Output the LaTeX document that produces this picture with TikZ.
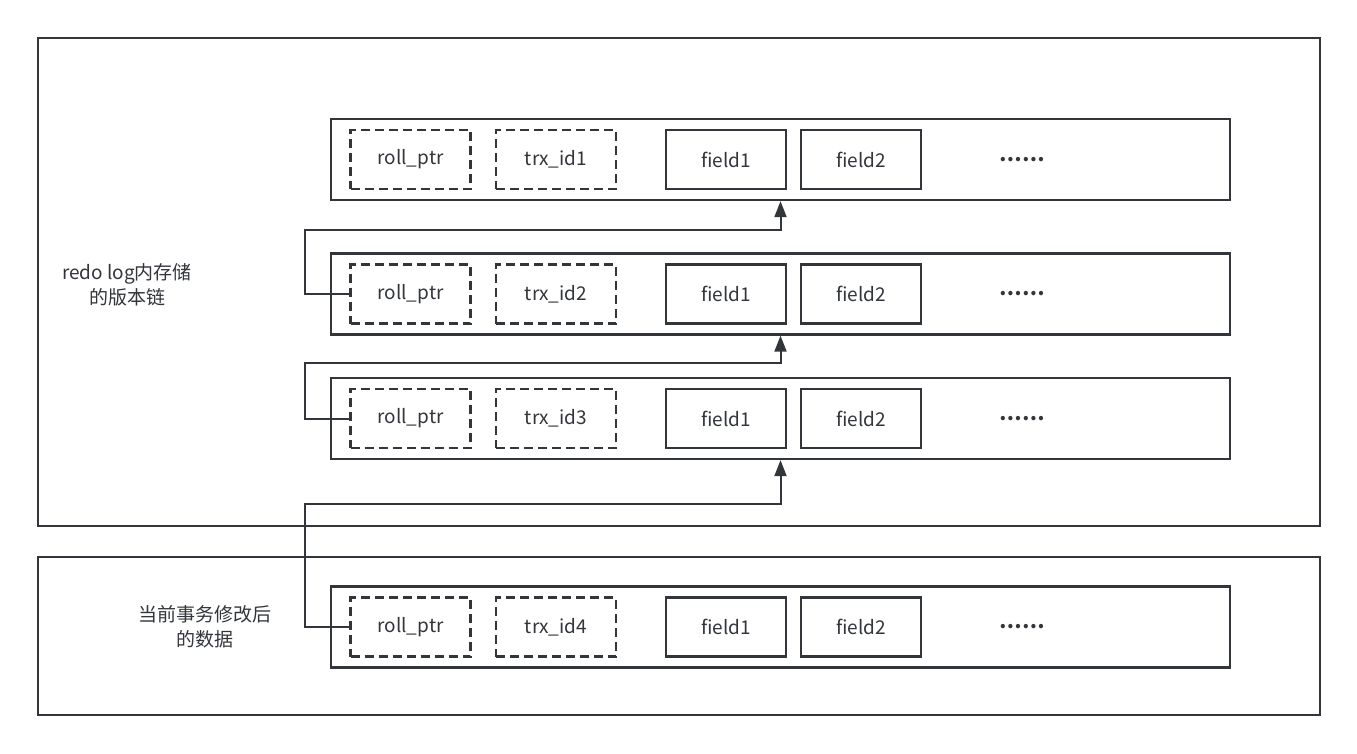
\documentclass[tikz,border=0pt]{standalone}
\usepackage{fontspec}
\setmainfont{Noto Sans CJK SC}
\usepackage{xcolor}
\definecolor{ink}{RGB}{50,53,58}
\usepackage{tikz}
\usetikzlibrary{positioning, arrows.meta, calc}
\tikzstyle{frame} = [
    rectangle,
    draw=ink,
    line width=2pt,
    minimum width=1282,
    minimum height=488,
]
\tikzstyle{row} = [
    rectangle,
    draw=ink,
    line width=2.3pt,
    minimum width=899,
    minimum height=81,
]
\tikzstyle{cell} = [
    rectangle, text centered,
    draw=ink,
    line width=2.3pt,
    minimum width=120,
    minimum height=59,
]
\tikzstyle{meta} = [
    cell,
    dash pattern=on 9pt off 5pt,
]
\tikzstyle{caption} = [
    align=center,
]
\tikzstyle{arrow} = [-{Triangle[length=16pt,width=12pt]}, draw=ink, line width=2pt]

\begin{document}
\begin{tikzpicture}[x=1pt, y=-1pt, text=ink, font=\fontsize{19}{25}\selectfont]
    \useasboundingbox (0,0) rectangle (1357,753);

    % frames
    \node (log) at (679, 282) [frame] {};
    \node (cur) at (679, 636) [frame, minimum height=158] {};
    \node (loglabel) at (127, 285) [caption] {redo log内存储\\的版本链};
    \node (curlabel) at (205, 627) [caption] {当前事务修改后\\的数据};

    % rows
    \foreach \y/\h in {1/159.5, 2/294, 3/418.5, 4/627} {
        \node (row\y) at (780.5, \h) [row] {};
        \node (roll\y) at (410.5, \h) [meta] {roll\_ptr};
        \node (trx\y) at (556, \h) [meta] {trx\_id\y};
        \node (fa\y) at (726, \h) [cell] {field1};
        \node (fb\y) at (861, \h) [cell] {field2};
        \node (more\y) at (1022, \h) [font=\fontsize{20}{25}\selectfont\bfseries] {……};
    }

    % arrows
    \foreach \x/\y/\gap in {1/2/29, 2/3/27, 3/4/44} {
        \draw [arrow] (roll\y.west) -- ++(-44,0) |- ($(row\x.south)+(0,\gap)$) -- (row\x.south);
    }

\end{tikzpicture}
\end{document}
